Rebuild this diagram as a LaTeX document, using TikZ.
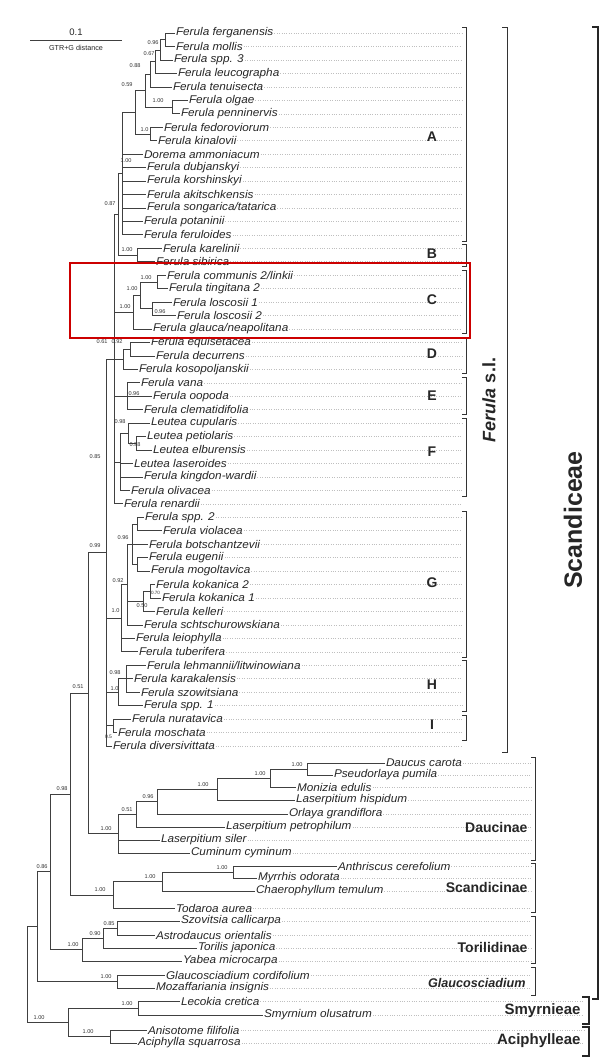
\documentclass[tikz,border=0pt]{standalone}
\usepackage{fontspec}
\setmainfont{Liberation Sans}
\newfontfamily\leaffont[FakeStretch=1.05]{Liberation Sans}
\begin{document}
\begin{tikzpicture}[x=1pt,y=-1pt,
 leaf/.style={anchor=west,inner sep=0.8pt,font=\leaffont\fontsize{11.2}{12}\selectfont\itshape,text=black!85},
 br/.style={draw=black!75,line width=0.55pt},
 supp/.style={anchor=east,inner sep=0.3pt,font=\fontsize{5.6}{6}\selectfont,text=black!80},
 suppw/.style={supp,anchor=west},
 dotl/.style={draw=black!25,dotted,line width=0.4pt},
 brk/.style={draw=black!80,line width=0.7pt},
 thick brk/.style={draw=black!85,line width=1.6pt},
 grp/.style={font=\bfseries\fontsize{14}{15}\selectfont,text=black!85},
 sub/.style={anchor=east,font=\bfseries\fontsize{14}{15}\selectfont,text=black!85},
]
\useasboundingbox (0,0) rectangle (611,1061);
\fill[white] (0,0) rectangle (611,1061);

% scale bar
\coordinate (sbl) at (30,40);
\coordinate (sbr) at (122,40);
\draw[br,line width=0.8pt] (sbl) -- (sbr);
\node[font=\fontsize{9.5}{10}\selectfont,text=black!85] (sbt) at (76,32) {0.1};
\node[font=\fontsize{7.2}{8}\selectfont,text=black!85] (sbd) at (76,48) {GTR+G distance};

% ---------- leaves: Ferula s.l.
\node[leaf] (L1) at (175,33.0) {Ferula ferganensis};
\node[leaf] (L2) at (175,46.45) {Ferula mollis};
\node[leaf] (L3) at (173,59.9) {Ferula spp. 3};
\node[leaf] (L4) at (177,73.35) {Ferula leucographa};
\node[leaf] (L5) at (172,86.8) {Ferula tenuisecta};
\node[leaf] (L6) at (188,100.25) {Ferula olgae};
\node[leaf] (L7) at (180,113.7) {Ferula penninervis};
\node[leaf] (L8) at (163,127.15) {Ferula fedoroviorum};
\node[leaf] (L9) at (157,140.6) {Ferula kinalovii};
\node[leaf] (L10) at (143,154.05) {Dorema ammoniacum};
\node[leaf] (L11) at (146,167.5) {Ferula dubjanskyi};
\node[leaf] (L12) at (146,180.95) {Ferula korshinskyi};
\node[leaf] (L13) at (146,194.4) {Ferula akitschkensis};
\node[leaf] (L14) at (146,207.85) {Ferula songarica/tatarica};
\node[leaf] (L15) at (143,221.3) {Ferula potaninii};
\node[leaf] (L16) at (143,234.75) {Ferula feruloides};
\node[leaf] (L17) at (162,248.2) {Ferula karelinii};
\node[leaf] (L18) at (155,261.65) {Ferula sibirica};
\node[leaf] (L19) at (166,275.1) {Ferula communis 2/linkii};
\node[leaf] (L20) at (168,288.55) {Ferula tingitana 2};
\node[leaf] (L21) at (172,302.0) {Ferula loscosii 1};
\node[leaf] (L22) at (176,315.45) {Ferula loscosii 2};
\node[leaf] (L23) at (152,328.9) {Ferula glauca/neapolitana};
\node[leaf] (L24) at (150,342.35) {Ferula equisetacea};
\node[leaf] (L25) at (155,355.8) {Ferula decurrens};
\node[leaf] (L26) at (138,369.25) {Ferula kosopoljanskii};
\node[leaf] (L27) at (140,382.7) {Ferula vana};
\node[leaf] (L28) at (152,396.15) {Ferula oopoda};
\node[leaf] (L29) at (143,409.6) {Ferula clematidifolia};
\node[leaf] (L30) at (150,423.05) {Leutea cupularis};
\node[leaf] (L31) at (146,436.5) {Leutea petiolaris};
\node[leaf] (L32) at (152,449.95) {Leutea elburensis};
\node[leaf] (L33) at (133,463.4) {Leutea laseroides};
\node[leaf] (L34) at (143,476.85) {Ferula kingdon-wardii};
\node[leaf] (L35) at (130,490.3) {Ferula olivacea};
\node[leaf] (L36) at (123,503.75) {Ferula renardii};
\node[leaf] (L37) at (144,517.2) {Ferula spp. 2};
\node[leaf] (L38) at (162,530.65) {Ferula violacea};
\node[leaf] (L39) at (148,544.1) {Ferula botschantzevii};
\node[leaf] (L40) at (148,557.55) {Ferula eugenii};
\node[leaf] (L41) at (150,571.0) {Ferula mogoltavica};
\node[leaf] (L42) at (155,584.45) {Ferula kokanica 2};
\node[leaf] (L43) at (161,597.9) {Ferula kokanica 1};
\node[leaf] (L44) at (155,611.35) {Ferula kelleri};
\node[leaf] (L45) at (143,624.8) {Ferula schtschurowskiana};
\node[leaf] (L46) at (135,638.25) {Ferula leiophylla};
\node[leaf] (L47) at (138,651.7) {Ferula tuberifera};
\node[leaf] (L48) at (146,665.15) {Ferula lehmannii/litwinowiana};
\node[leaf] (L49) at (133,678.6) {Ferula karakalensis};
\node[leaf] (L50) at (140,692.05) {Ferula szowitsiana};
\node[leaf] (L51) at (143,705.5) {Ferula spp. 1};
\node[leaf] (L52) at (131,718.95) {Ferula nuratavica};
\node[leaf] (L53) at (117,732.4) {Ferula moschata};
\node[leaf] (L54) at (112,745.85) {Ferula diversivittata};

% ---------- leaves: other taxa
\node[leaf] (M1) at (385,763) {Daucus carota};
\node[leaf] (M2) at (333,775) {Pseudorlaya pumila};
\node[leaf] (M3) at (296,787) {Monizia edulis};
\node[leaf] (M4) at (295,800) {Laserpitium hispidum};
\node[leaf] (M5) at (288,814) {Orlaya grandiflora};
\node[leaf] (M6) at (225,827) {Laserpitium petrophilum};
\node[leaf] (M7) at (160,840) {Laserpitium siler};
\node[leaf] (M8) at (190,853) {Cuminum cyminum};
\node[leaf] (M9) at (337,866) {Anthriscus cerefolium};
\node[leaf] (M10) at (257,878) {Myrrhis odorata};
\node[leaf] (M11) at (255,891) {Chaerophyllum temulum};
\node[leaf] (M12) at (175,908) {Todaroa aurea};
\node[leaf] (M13) at (180,921) {Szovitsia callicarpa};
\node[leaf] (M14) at (155,935) {Astrodaucus orientalis};
\node[leaf] (M15) at (197,948) {Torilis japonica};
\node[leaf] (M16) at (182,961) {Yabea microcarpa};
\node[leaf] (M17) at (165,975) {Glaucosciadium cordifolium};
\node[leaf] (M18) at (155,988) {Mozaffariania insignis};
\node[leaf] (M19) at (180,1001) {Lecokia cretica};
\node[leaf] (M20) at (263,1015) {Smyrnium olusatrum};
\node[leaf] (M21) at (147,1030) {Anisotome filifolia};
\node[leaf] (M22) at (137,1043) {Aciphylla squarrosa};

% ---------- internal nodes
\coordinate (fm) at (165,39.7);
\coordinate (fms) at (160,49.8);
\coordinate (fmsl) at (155,61.6);
\coordinate (A3) at (150,74.2);
\coordinate (op) at (172,107.0);
\coordinate (A2) at (145,90.6);
\coordinate (fk) at (150,133.9);
\coordinate (A1) at (135,112.2);
\coordinate (nA) at (122,173.5);
\coordinate (nB) at (137,254.9);
\coordinate (AB) at (118,214.2);
\coordinate (ct) at (157,281.8);
\coordinate (ll) at (152,308.7);
\coordinate (C1) at (140,295.3);
\coordinate (nC) at (133,312.1);
\coordinate (ed) at (130,349.1);
\coordinate (nD) at (123,359.2);
\coordinate (nE) at (127,396.15);
\coordinate (pe) at (136,443.2);
\coordinate (Le3) at (128,433.2);
\coordinate (nF) at (120,461.8);
\coordinate (nT) at (114,358.9);
\coordinate (sv) at (137,523.9);
\coordinate (emo) at (137,564.3);
\coordinate (G1) at (132,544.1);
\coordinate (kk) at (150,591.2);
\coordinate (kkk) at (143,601.3);
\coordinate (G2) at (127,584.5);
\coordinate (nG) at (121,618.4);
\coordinate (H1) at (126,678.6);
\coordinate (nH) at (118,692.1);
\coordinate (nI) at (113,725.7);
\coordinate (FL) at (106,552.4);
\coordinate (dp) at (307,769);
\coordinate (dpm) at (270,778);
\coordinate (dpmh) at (217,789);
\coordinate (no) at (157,801.5);
\coordinate (opn) at (136,814.3);
\coordinate (Dau) at (118,833.6);
\coordinate (FD) at (88,693);
\coordinate (am) at (233,872);
\coordinate (amc) at (162,881.5);
\coordinate (Sc) at (113,894.8);
\coordinate (n70) at (70,793.9);
\coordinate (sa) at (117,928);
\coordinate (sat) at (103,938);
\coordinate (Tor) at (82,949.5);
\coordinate (n50) at (50,871.7);
\coordinate (Gl) at (117,981.5);
\coordinate (n37) at (37,926.6);
\coordinate (Sm) at (138,1008);
\coordinate (Ac) at (110,1036.5);
\coordinate (Out) at (68,1022.2);
\coordinate (root) at (27,974.4);

% ---------- branches
\foreach \p/\c in {fm/L1.west,fm/L2.west,fms/fm,fms/L3.west,fmsl/fms,fmsl/L4.west,
  A3/fmsl,A3/L5.west,op/L6.west,op/L7.west,A2/A3,A2/op,fk/L8.west,fk/L9.west,
  A1/A2,A1/fk,nA/A1,nA/L10.west,nA/L11.west,nA/L12.west,nA/L13.west,nA/L14.west,
  nA/L15.west,nA/L16.west,nB/L17.west,nB/L18.west,AB/nA,AB/nB,
  ct/L19.west,ct/L20.west,ll/L21.west,ll/L22.west,C1/ct,C1/ll,nC/C1,nC/L23.west,
  ed/L24.west,ed/L25.west,nD/ed,nD/L26.west,nE/L27.west,nE/L28.west,nE/L29.west,
  pe/L31.west,pe/L32.west,Le3/L30.west,Le3/pe,nF/Le3,nF/L33.west,nF/L34.west,nF/L35.west,
  nT/AB,nT/nC,nT/nD,nT/nE,nT/nF,nT/L36.west,
  sv/L37.west,sv/L38.west,emo/L40.west,emo/L41.west,G1/sv,G1/L39.west,G1/emo,
  kk/L42.west,kk/L43.west,kkk/kk,kkk/L44.west,G2/G1,G2/kkk,G2/L45.west,
  nG/G2,nG/L46.west,nG/L47.west,H1/L48.west,H1/L49.west,H1/L50.west,nH/H1,nH/L51.west,
  nI/L52.west,nI/L53.west,FL/nT,FL/nG,FL/nH,FL/nI,FL/L54.west,
  dp/M1.west,dp/M2.west,dpm/dp,dpm/M3.west,dpmh/dpm,dpmh/M4.west,no/dpmh,no/M5.west,
  opn/no,opn/M6.west,Dau/opn,Dau/M7.west,Dau/M8.west,FD/FL,FD/Dau,
  am/M9.west,am/M10.west,amc/am,amc/M11.west,Sc/amc,Sc/M12.west,n70/FD,n70/Sc,
  sa/M13.west,sa/M14.west,sat/sa,sat/M15.west,Tor/sat,Tor/M16.west,n50/n70,n50/Tor,
  Gl/M17.west,Gl/M18.west,n37/n50,n37/Gl,Sm/M19.west,Sm/M20.west,Ac/M21.west,Ac/M22.west,
  Out/Sm,Out/Ac,root/n37,root/Out}
  \draw[br] (\p) |- (\c);

% ---------- support values
\node[supp] (s1) at (159,43) {0.96};
\node[supp] (s2) at (155,53.5) {0.67};
\node[supp] (s3) at (141,66) {0.88};
\node[supp] (s4) at (133,85) {0.59};
\node[supp] (s5) at (164,101) {1.00};
\node[supp] (s6) at (149,130) {1.0};
\node[supp] (s7) at (132,161) {1.00};
\node[supp] (s8) at (116,204) {0.87};
\node[supp] (s9) at (133,250) {1.00};
\node[supp] (s10) at (152,278) {1.00};
\node[supp] (s11) at (138,289) {1.00};
\node[supp] (s12) at (131,307) {1.00};
\node[suppw] (s13) at (154,312) {0.96};
\node[supp] (s14) at (108,342) {0.61};
\node[supp] (s15) at (123,342) {0.92};
\node[suppw] (s16) at (128,394) {0.96};
\node[supp] (s17) at (126,422) {0.98};
\node[suppw] (s18) at (129,445) {0.98};
\node[supp] (s19) at (101,457) {0.85};
\node[supp] (s20) at (129,538) {0.96};
\node[supp] (s21) at (124,581) {0.92};
\node[suppw,font=\fontsize{4.6}{5}\selectfont] (s22) at (150.5,593.2) {0.70};
\node[supp] (s23) at (148,606) {0.50};
\node[supp] (s24) at (120,611) {1.0};
\node[supp] (s25) at (121,673) {0.98};
\node[supp] (s26) at (119,689) {1.0};
\node[supp,font=\fontsize{5}{5}\selectfont] (s27) at (112.5,737) {0.5};
\node[supp] (s28) at (101,546) {0.99};
\node[supp] (s29) at (84,687) {0.51};
\node[supp] (s30) at (68,789) {0.98};
\node[supp] (s31) at (48,867) {0.86};
\node[supp] (s32) at (303,765) {1.00};
\node[supp] (s33) at (266,774) {1.00};
\node[supp] (s34) at (209,785) {1.00};
\node[supp] (s35) at (154,797) {0.96};
\node[supp] (s36) at (133,810) {0.51};
\node[supp] (s37) at (112,829) {1.00};
\node[supp] (s38) at (228,868) {1.00};
\node[supp] (s39) at (156,877) {1.00};
\node[supp] (s40) at (106,890) {1.00};
\node[supp] (s41) at (115,924) {0.85};
\node[supp] (s42) at (101,934) {0.90};
\node[supp] (s43) at (79,945) {1.00};
\node[supp] (s44) at (112,977) {1.00};
\node[supp] (s45) at (133,1004) {1.00};
\node[supp] (s46) at (94,1032) {1.00};
\node[supp] (s47) at (45,1018) {1.00};

% ---------- dotted guide lines
\coordinate (gx1) at (462,0);
\coordinate (gx2) at (531,0);
\coordinate (gx3) at (584,0);
\foreach \n in {L1,L2,L3,L4,L5,L6,L7,L8,L9,L10,L11,L12,L13,L14,L15,L16,L17,L18,L19,L20,
  L21,L22,L23,L24,L25,L26,L27,L28,L29,L30,L31,L32,L33,L34,L35,L36,L37,L38,L39,L40,
  L41,L42,L43,L44,L45,L46,L47,L48,L49,L50,L51,L52,L53,L54}
  \draw[dotl] (\n.east) -- (\n.east -| gx1);
\foreach \n in {M1,M2,M3,M4,M5,M6,M7,M8,M9,M10,M11,M12,M13,M14,M15,M16,M17,M18}
  \draw[dotl] (\n.east) -- (\n.east -| gx2);
\foreach \n in {M19,M20,M21,M22}
  \draw[dotl] (\n.east) -- (\n.east -| gx3);

% ---------- group brackets (Ferula)
\foreach \a/\b in {27/241,244/266,270/333,337/373,377/414,418/496,511/657,660/711,715/740}
  \draw[brk] (462,\a) -- (466,\a) -- (466,\b) -- (462,\b);
\node[grp] (gA) at (432,137) {A};
\node[grp] (gB) at (432,254) {B};
\node[grp] (gC) at (432,300) {C};
\node[grp] (gD) at (432,354) {D};
\node[grp] (gE) at (432,396) {E};
\node[grp] (gF) at (432,452) {F};
\node[grp] (gG) at (432,583) {G};
\node[grp] (gH) at (432,685) {H};
\node[grp] (gI) at (432,725) {I};

% Ferula s.l.
\draw[brk,line width=0.9pt] (502,27) -- (507,27) -- (507,752) -- (502,752);
\node[rotate=90,font=\bfseries\fontsize{18}{20}\selectfont,text=black!85] (fsl) at (489,400) {\textit{Ferula} s.l.};

% subtribes
\foreach \a/\b in {757/860,863/912,916/963,967/995}
  \draw[brk] (531,\a) -- (535,\a) -- (535,\b) -- (531,\b);
\node[sub] (tDau) at (531,827) {Daucinae};
\node[sub] (tSca) at (531,887) {Scandicinae};
\node[sub] (tTor) at (531,947) {Torilidinae};
\node[sub,font=\bfseries\itshape\fontsize{12.6}{14}\selectfont] (tGla) at (529,983) {Glaucosciadium};

% tribes
\draw[thick brk] (582,997) -- (589,997) -- (589,1024) -- (582,1024);
\draw[thick brk] (582,1027) -- (589,1027) -- (589,1056) -- (582,1056);
\node[sub,font=\bfseries\fontsize{15}{16}\selectfont] (tSmy) at (584,1011) {Smyrnieae};
\node[sub,font=\bfseries\fontsize{15}{16}\selectfont] (tAci) at (584,1041) {Aciphylleae};
\draw[draw=black!85,line width=1.1pt] (592,27) -- (598,27) -- (598,999) -- (592,999);
\node[rotate=90,font=\bfseries\fontsize{25}{27}\selectfont,text=black!85] (tScd) at (573,520) {Scandiceae};

% highlight box
\draw[draw=red!80!black,line width=2.6pt] (70,263) rectangle (470,338);
\end{tikzpicture}
\end{document}
